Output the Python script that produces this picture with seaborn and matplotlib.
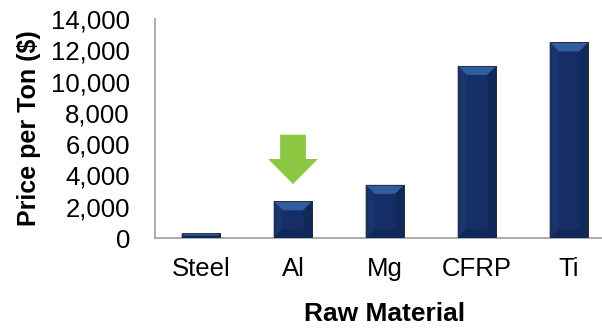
import matplotlib
matplotlib.use("Agg")
import matplotlib.pyplot as plt
import seaborn as sns
import pandas as pd
from matplotlib.patches import Polygon
from matplotlib.transforms import IdentityTransform
from matplotlib.ticker import FuncFormatter, MultipleLocator, FixedLocator

# Raw material prices
materials = ["Steel", "Al", "Mg", "CFRP", "Ti"]
price_per_ton = [300, 2350, 3400, 11000, 12500]
highlight = "Al"
arrow_top, arrow_head_base, arrow_tip = 6600, 5050, 3450

df = pd.DataFrame({"Raw Material": materials, "Price": price_per_ton})

sns.set_style("white")
plt.rcParams["font.family"] = ["Liberation Sans", "DejaVu Sans"]
plt.rcParams["text.color"] = "black"
plt.rcParams["axes.labelcolor"] = "black"

fig = plt.figure(figsize=(6.02, 3.28), dpi=100)
ax = fig.add_axes([155 / 602, 1 - 238 / 328, 460 / 602, 219 / 328])

sns.barplot(data=df, x="Raw Material", y="Price", color="#152f66",
            width=0.42, edgecolor="#2a2a2a", linewidth=0.6,
            saturation=1, ax=ax)

ax.set_ylim(0, 14000)
ax.set_xlim(-0.5, len(materials) - 0.5)
ax.yaxis.set_major_locator(MultipleLocator(2000))
ax.yaxis.set_major_formatter(FuncFormatter(lambda v, p: f"{int(v):,}"))

for side in ["top", "right"]:
    ax.spines[side].set_visible(False)
for side in ["left", "bottom"]:
    ax.spines[side].set_color("#a6a6a6")
    ax.spines[side].set_linewidth(1.3)

ax.tick_params(axis="y", direction="in", length=6, width=1.1, color="#a6a6a6",
               labelsize=18.5, pad=18, labelcolor="black")
ax.tick_params(axis="x", which="major", length=0, labelsize=18.5, pad=14,
               labelcolor="black")
ax.xaxis.set_minor_locator(FixedLocator([i + 0.5 for i in range(len(materials))]))
ax.tick_params(axis="x", which="minor", direction="in", length=6, width=1.1,
               color="#a6a6a6")

ax.set_ylabel("Price per Ton ($)", fontsize=18, fontweight="bold")
ax.set_xlabel("Raw Material", fontsize=19, fontweight="bold")
ax.xaxis.set_label_coords(0.5, -0.29)
ax.yaxis.set_label_coords(-0.247, 0.5)

# Bevelled look on each bar
fig.canvas.draw()
for patch in ax.patches:
    x0, y0 = ax.transData.transform((patch.get_x(), patch.get_y()))
    x1, y1 = ax.transData.transform((patch.get_x() + patch.get_width(),
                                     patch.get_y() + patch.get_height()))
    d = min(9.0, (y1 - y0) / 2.0, (x1 - x0) / 2.0)
    faces = [
        ([(x0, y1), (x1, y1), (x1 - d, y1 - d), (x0 + d, y1 - d)], "#2f5d9d"),
        ([(x0, y0), (x0, y1), (x0 + d, y1 - d), (x0 + d, y0 + d)], "#18346f"),
        ([(x1, y0), (x1, y1), (x1 - d, y1 - d), (x1 - d, y0 + d)], "#112959"),
        ([(x0, y0), (x1, y0), (x1 - d, y0 + d), (x0 + d, y0 + d)], "#11285a"),
    ]
    for pts, col in faces:
        ax.add_patch(Polygon(pts, closed=True, facecolor=col, edgecolor="none",
                             transform=IdentityTransform(), zorder=3))
    ax.add_patch(Polygon([(x0, y0), (x0, y1), (x1, y1), (x1, y0)], closed=True,
                         facecolor="none", edgecolor="#2a2a2a", linewidth=0.6,
                         transform=IdentityTransform(), zorder=4))

# Green arrow pointing at the highlighted material
xi = materials.index(highlight)
shaft_half, head_half = 0.14, 0.27
arrow_pts = [
    (xi - shaft_half, arrow_top), (xi + shaft_half, arrow_top),
    (xi + shaft_half, arrow_head_base), (xi + head_half, arrow_head_base),
    (xi, arrow_tip), (xi - head_half, arrow_head_base),
    (xi - shaft_half, arrow_head_base),
]
ax.add_patch(Polygon(arrow_pts, closed=True, facecolor="#8dc641",
                     edgecolor="none", zorder=5))

fig.savefig("out.png", dpi=100)
